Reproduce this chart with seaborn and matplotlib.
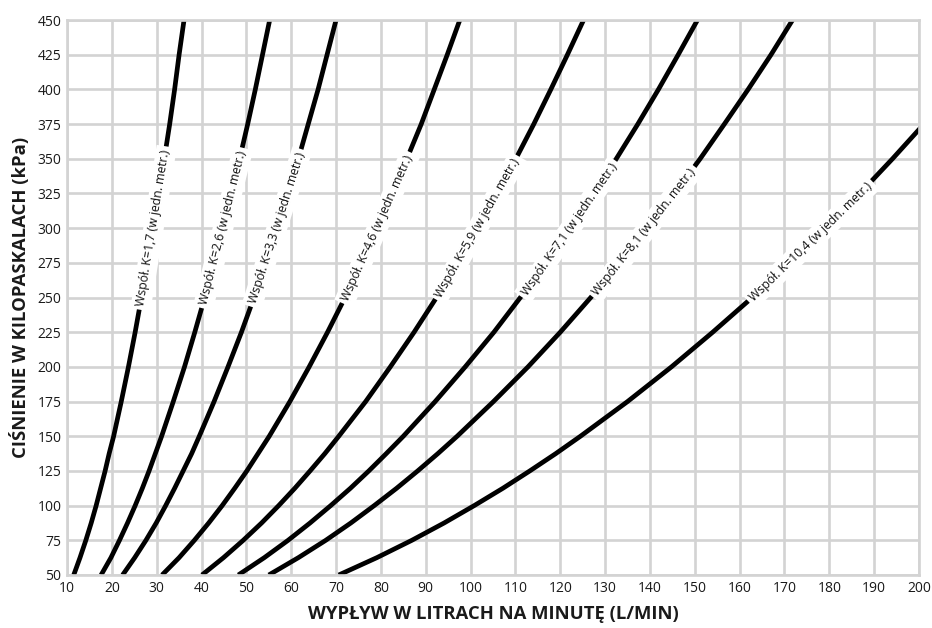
import numpy as np
import pandas as pd
import matplotlib
matplotlib.use("Agg")
import matplotlib.pyplot as plt
import seaborn as sns

# Pressure levels (kPa) at which each curve's flow was tabulated
pressure_kpa = [50, 62.5, 75, 87.5, 100, 112.5, 125, 137.5, 150, 175, 200,
                225, 250, 275, 300, 325, 350, 375, 400, 425, 450]

# Flow (L/min) for each nozzle coefficient K
flow_k17 = [11.5, 12.9, 14.2, 15.4, 16.5, 17.5, 18.5, 19.4, 20.4, 22.1, 23.7,
            25.2, 26.6, 28.0, 29.3, 30.5, 31.7, 32.9, 34.0, 35.0, 36.1]
flow_k26 = [17.6, 19.8, 21.7, 23.5, 25.2, 26.8, 28.3, 29.7, 31.1, 33.7, 36.2,
            38.5, 40.7, 42.8, 44.8, 46.7, 48.5, 50.3, 52.0, 53.6, 55.2]
flow_k33 = [22.4, 25.1, 27.6, 29.9, 32.0, 34.0, 35.9, 37.8, 39.5, 42.8, 45.9,
            48.9, 51.7, 54.3, 56.8, 59.3, 61.6, 63.8, 66.0, 68.0, 70.0]
flow_k46 = [31.2, 35.0, 38.4, 41.6, 44.6, 47.4, 50.1, 52.6, 55.1, 59.7, 64.0,
            68.1, 72.0, 75.7, 79.2, 82.6, 85.8, 89.0, 91.9, 94.8, 97.6]
flow_k59 = [40.1, 44.9, 49.3, 53.4, 57.2, 60.8, 64.2, 67.5, 70.6, 76.6, 82.1,
            87.4, 92.4, 97.1, 101.6, 105.9, 110.1, 114.1, 117.9, 121.6, 125.2]
flow_k71 = [48.2, 54.0, 59.3, 64.2, 68.8, 73.2, 77.3, 81.2, 85.0, 92.1, 98.8,
            105.2, 111.1, 116.8, 122.3, 127.5, 132.5, 137.3, 141.9, 146.3, 150.6]
flow_k81 = [55.0, 61.6, 67.7, 73.3, 78.5, 83.5, 88.2, 92.7, 97.0, 105.1, 112.8,
            120.0, 126.8, 133.3, 139.5, 145.5, 151.2, 156.6, 161.9, 167.0, 171.8]
flow_k104 = [70.6, 79.1, 86.9, 94.1, 100.8, 107.2, 113.2, 119.0, 124.5, 135.0,
             144.8, 154.0, 162.8, 171.1, 179.1, 186.8, 194.1, 201.1]

curve_labels = ["Współ. K=1,7 (w jedn. metr.)", "Współ. K=2,6 (w jedn. metr.)",
                "Współ. K=3,3 (w jedn. metr.)", "Współ. K=4,6 (w jedn. metr.)",
                "Współ. K=5,9 (w jedn. metr.)", "Współ. K=7,1 (w jedn. metr.)",
                "Współ. K=8,1 (w jedn. metr.)", "Współ. K=10,4 (w jedn. metr.)"]
curve_flows = [flow_k17, flow_k26, flow_k33, flow_k46, flow_k59, flow_k71,
               flow_k81, flow_k104]
# Pressure at which each in-line label is centred
label_pressure = [300, 300, 300, 300, 300, 299, 297, 290]

x_ticks = list(range(10, 201, 10))
y_ticks = list(range(50, 451, 25))

sns.set_theme(style="whitegrid")
plt.rcParams["font.family"] = ["Open Sans", "DejaVu Sans"]

fig = plt.figure(figsize=(9.32, 6.28), dpi=100)
ax = fig.add_axes([67 / 932, 1 - 575 / 628, (919 - 67) / 932, (575 - 20) / 628])

frames = []
for name, flows in zip(curve_labels, curve_flows):
    frames.append(pd.DataFrame({"flow": flows,
                                "pressure": pressure_kpa[:len(flows)],
                                "curve": name}))
df = pd.concat(frames, ignore_index=True)

sns.lineplot(data=df, x="flow", y="pressure", hue="curve",
             palette=["black"] * len(curve_labels), estimator=None, sort=False,
             linewidth=3.4, legend=False, ax=ax,
             solid_capstyle="butt", solid_joinstyle="round")

ax.set_xlim(10, 200)
ax.set_ylim(50, 450)
ax.set_xticks(x_ticks)
ax.set_yticks(y_ticks)
ax.grid(True, color="#d3d3d3", linewidth=1.9)
ax.set_axisbelow(True)
for sp in ax.spines.values():
    sp.set_color("#d3d3d3")
    sp.set_linewidth(1.9)
ax.tick_params(length=0, labelsize=10, colors="#1a1a1a", pad=4)

ax.set_xlabel("WYPŁYW W LITRACH NA MINUTĘ (L/MIN)", fontsize=13.3,
              fontweight="bold", color="#1a1a1a")
ax.set_ylabel("CIŚNIENIE W KILOPASKALACH (kPa)", fontsize=13.3,
              fontweight="bold", color="#1a1a1a")
ax.xaxis.set_label_coords(0.5, -30 / 555)
ax.yaxis.set_label_coords(-37 / 852, 0.5)

# In-line labels rotated along each curve, with a white box breaking the line
for name, flows, p_c in zip(curve_labels, curve_flows, label_pressure):
    pr = pressure_kpa[:len(flows)]
    q_c = np.interp(p_c, pr, flows)
    q_lo = np.interp(p_c - 10, pr, flows)
    q_hi = np.interp(p_c + 10, pr, flows)
    (x1, y1), (x2, y2) = ax.transData.transform([(q_lo, p_c - 10), (q_hi, p_c + 10)])
    ang = np.degrees(np.arctan2(y2 - y1, x2 - x1))
    ax.text(q_c, p_c, name, rotation=ang, rotation_mode="anchor",
            ha="center", va="center", fontsize=8.8, color="#111111",
            bbox=dict(boxstyle="square,pad=0.3", fc="white", ec="none"),
            zorder=5)

fig.savefig("out.png", dpi=100, facecolor="white")
